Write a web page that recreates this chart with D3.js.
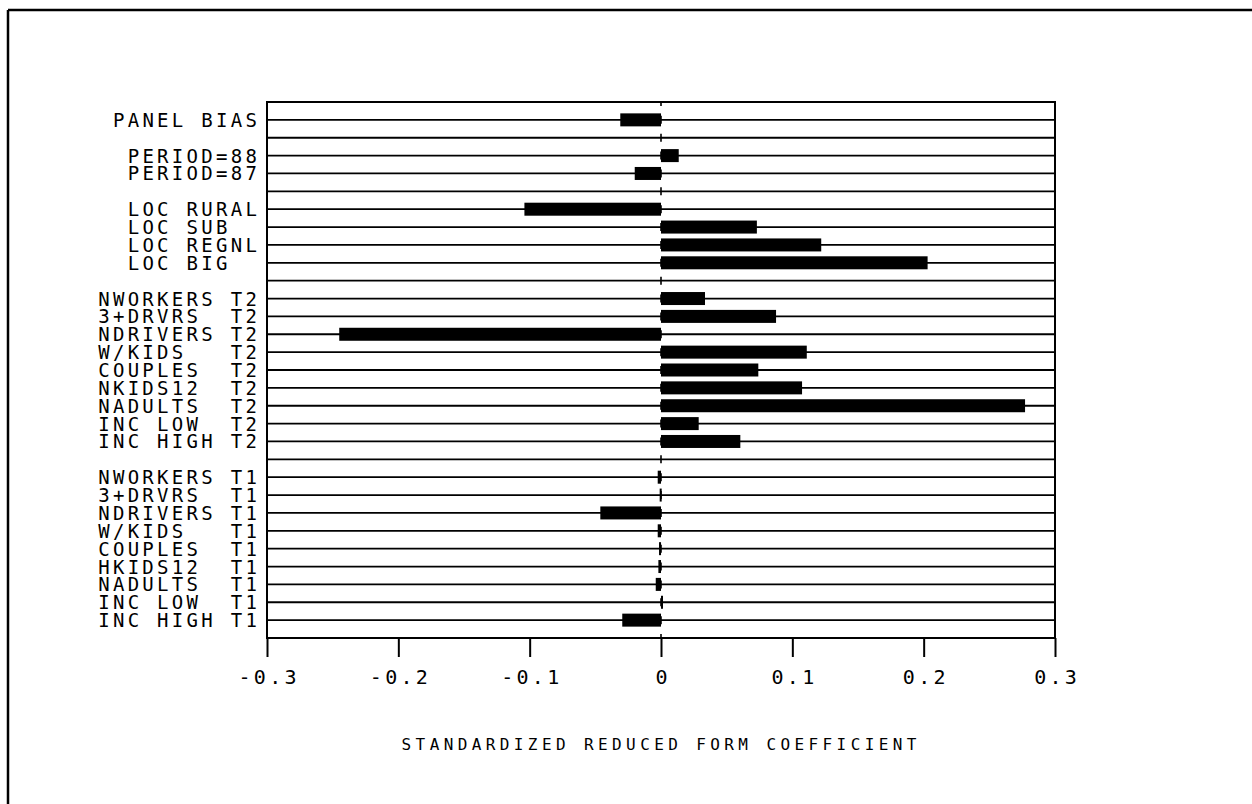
<!DOCTYPE html>
<html>
<head>
<meta charset="utf-8">
<script src="https://cdn.jsdelivr.net/npm/d3@7"></script>
<style>
  html, body { margin: 0; padding: 0; background: #fff; }
  svg { display: block; }
  text { font-family: "DejaVu Sans Mono", "Liberation Mono", monospace; fill: #000; white-space: pre; }
</style>
</head>
<body>
<svg id="chart" width="1252" height="804"></svg>
<script>
// ---- data (top to bottom; "" / null are the spacer rows) ----
const categories = [
  "PANEL BIAS", "",
  "PERIOD=88", "PERIOD=87", "",
  "LOC RURAL", "LOC SUB  ", "LOC REGNL", "LOC BIG  ", "",
  "NWORKERS T2", "3+DRVRS  T2", "NDRIVERS T2", "W/KIDS   T2", "COUPLES  T2",
  "NKIDS12  T2", "NADULTS  T2", "INC LOW  T2", "INC HIGH T2", "",
  "NWORKERS T1", "3+DRVRS  T1", "NDRIVERS T1", "W/KIDS   T1", "COUPLES  T1",
  "HKIDS12  T1", "NADULTS  T1", "INC LOW  T1", "INC HIGH T1"
];
const coefficients = [
  -0.031, null,
  0.0135, -0.020, null,
  -0.104, 0.073, 0.122, 0.203, null,
  0.0335, 0.0876, -0.245, 0.111, 0.0741,
  0.1074, 0.2772, 0.0287, 0.0604, null,
  -0.0025, -0.001, -0.0462, -0.0025, -0.0015,
  -0.002, -0.004, 0.0015, -0.0295
];
const tickValues = [-0.3, -0.2, -0.1, 0, 0.1, 0.2, 0.3];
const tickLabels = ["-0.3", "-0.2", "-0.1", "0", "0.1", "0.2", "0.3"];
const xTitle = "STANDARDIZED REDUCED FORM COEFFICIENT";

// ---- layout ----
const svg = d3.select("#chart");
const pLeft = 267, pRight = 1055, pTop = 102, pBottom = 638;
const nRows = categories.length + 1; // 30 intervals

const x = d3.scaleLinear().domain([-0.3, 0.3]).range([pLeft, pRight]);
const y = d3.scaleLinear().domain([0, nRows]).range([pTop, pBottom]);

const rows = categories.map((c, i) => ({ label: c, value: coefficients[i], pos: i + 1 }));

// outer frame (top and left only, as in the scan)
svg.append("line").attr("x1", 8).attr("x2", 1252).attr("y1", 10).attr("y2", 10)
  .attr("stroke", "#000").attr("stroke-width", 2.5);
svg.append("line").attr("x1", 8).attr("x2", 8).attr("y1", 10).attr("y2", 804)
  .attr("stroke", "#000").attr("stroke-width", 2.5);

// row lines
svg.append("g").selectAll("line").data(rows).join("line")
  .attr("x1", pLeft).attr("x2", pRight)
  .attr("y1", d => y(d.pos)).attr("y2", d => y(d.pos))
  .attr("stroke", "#000").attr("stroke-width", 1.8);

// zero reference dashes
svg.append("g").selectAll("line").data(d3.range(0, nRows + 1)).join("line")
  .attr("x1", x(0)).attr("x2", x(0))
  .attr("y1", d => Math.max(pTop, y(d) - 4)).attr("y2", d => Math.min(pBottom, y(d) + 4))
  .attr("stroke", "#000").attr("stroke-width", 1.6);

// bars
const barH = 13;
svg.append("g").selectAll("rect").data(rows.filter(d => d.value !== null)).join("rect")
  .attr("x", d => Math.min(x(0), x(d.value)))
  .attr("width", d => Math.max(2, Math.abs(x(d.value) - x(0))))
  .attr("y", d => y(d.pos) - barH / 2)
  .attr("height", barH)
  .attr("fill", "#000");

// plot box
svg.append("rect").attr("x", pLeft).attr("y", pTop)
  .attr("width", pRight - pLeft).attr("height", pBottom - pTop)
  .attr("fill", "none").attr("stroke", "#000").attr("stroke-width", 2);

// category labels
const ls = 3.3;
svg.append("g").selectAll("text").data(rows.filter(d => d.label !== "")).join("text")
  .attr("xml:space", "preserve")
  .attr("x", pLeft - 10 + ls)
  .attr("y", d => y(d.pos) + 7)
  .attr("text-anchor", "end")
  .style("font-size", "19px")
  .style("letter-spacing", ls + "px")
  .text(d => d.label);

// x axis
const axis = d3.axisBottom(x).tickValues(tickValues).tickSize(19).tickPadding(8)
  .tickFormat((d, i) => tickLabels[i]);
const gAxis = svg.append("g").attr("transform", `translate(0,${pBottom})`).call(axis);
gAxis.select(".domain").remove();
gAxis.selectAll(".tick line").attr("stroke", "#000").attr("stroke-width", 2);
gAxis.selectAll(".tick text")
  .attr("y", 0).attr("dy", null)
  .attr("transform", "translate(0,46)")
  .attr("dx", 3.3 / 2)
  .style("font-family", '"DejaVu Sans Mono", monospace')
  .style("font-size", "20px")
  .style("letter-spacing", "3.3px")
  .attr("fill", "#000");

// axis title
const tls = 4.4;
svg.append("text")
  .attr("x", (pLeft + pRight) / 2 + tls / 2 - 2)
  .attr("y", 750)
  .attr("text-anchor", "middle")
  .style("font-size", "16px")
  .style("letter-spacing", tls + "px")
  .text(xTitle);
</script>
</body>
</html>
